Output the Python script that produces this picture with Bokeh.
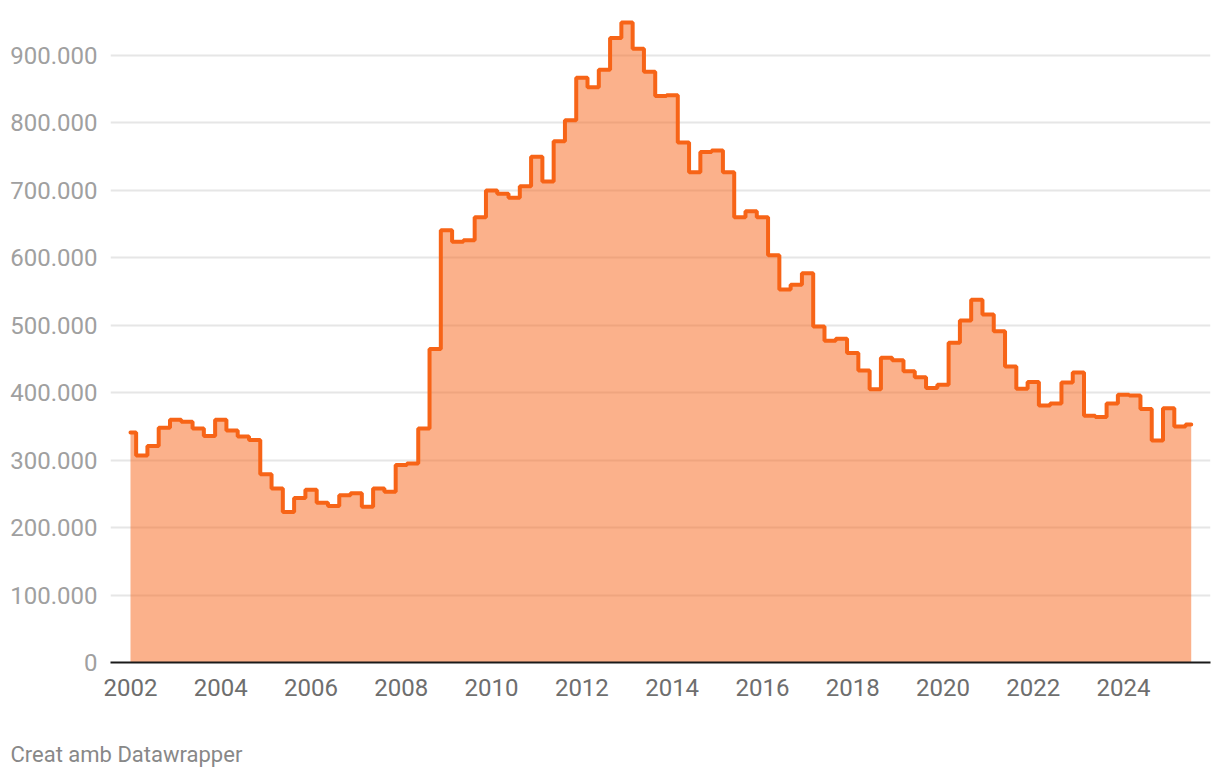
from bokeh.plotting import figure
from bokeh.models import FixedTicker, Range1d, Title
from bokeh.embed import file_html
from bokeh.resources import INLINE
import numpy as np

# Quarterly series, 2002 Q1 .. 2025 Q3 (values in thousands)
start_year = 2002
values_k = [341, 307, 321, 348, 360, 357, 347, 336, 360, 344, 335, 330,
            279, 258, 223, 244, 256, 237, 232, 248, 251, 231, 258, 253,
            293, 295, 347, 465, 641, 624, 626, 660, 700, 695, 689, 706,
            750, 713, 773, 804, 867, 853, 879, 926, 949, 910, 876, 840,
            841, 771, 727, 757, 759, 727, 660, 669, 660, 604, 553, 560,
            577, 498, 477, 480, 459, 433, 405, 452, 448, 432, 423, 407,
            412, 474, 507, 538, 516, 491, 439, 406, 416, 381, 384, 415,
            430, 366, 364, 384, 397, 396, 376, 329, 377, 350, 353]
x_ticks = [2002, 2004, 2006, 2008, 2010, 2012, 2014, 2016, 2018, 2020, 2022, 2024]
y_ticks = [0, 100000, 200000, 300000, 400000, 500000, 600000, 700000, 800000, 900000]
y_tick_labels = ["0", "100.000", "200.000", "300.000", "400.000", "500.000",
                 "600.000", "700.000", "800.000", "900.000"]
footer = "Creat amb Datawrapper"

xs = start_year + 0.25 * np.arange(len(values_k))
ys = np.array(values_k) * 1000.0

LINE = "#f76417"
FONT = "Roboto"

p = figure(width=1212, height=778, output_backend="svg", toolbar_location=None,
           x_range=Range1d(2001.557, 2025.927), y_range=Range1d(0, 959300),
           min_border_left=110, min_border_right=2, min_border_top=15,
           min_border_bottom=116)
p.outline_line_color = None
p.background_fill_color = "white"
p.border_fill_color = "white"

p.xgrid.visible = False
p.ygrid.grid_line_color = "#e6e6e6"
p.ygrid.grid_line_width = 2
p.ygrid.ticker = FixedTicker(ticks=y_ticks)

p.varea_step(x=xs, y1=0, y2=ys, step_mode="center", fill_color=LINE, fill_alpha=0.5)
p.step(xs, ys, mode="center", line_color=LINE, line_width=4, line_cap="round")

# x axis
xa = p.xaxis[0]
xa.ticker = FixedTicker(ticks=x_ticks)
xa.axis_line_color = "#1a1a1a"
xa.axis_line_width = 2
xa.major_tick_line_color = None
xa.minor_tick_line_color = None
xa.major_tick_out = 0
xa.major_tick_in = 0
xa.major_label_standoff = 16
xa.major_label_text_font = FONT
xa.major_label_text_font_size = "24px"
xa.major_label_text_color = "#6e6e6e"

# y axis
ya = p.yaxis[0]
ya.ticker = FixedTicker(ticks=y_ticks)
ya.major_label_overrides = {t: l for t, l in zip(y_ticks, y_tick_labels)}
ya.axis_line_color = None
ya.major_tick_line_color = None
ya.minor_tick_line_color = None
ya.major_tick_out = 0
ya.major_tick_in = 0
ya.major_label_standoff = 13
ya.major_label_text_font = FONT
ya.major_label_text_font_size = "24px"
ya.major_label_text_color = "#a0a0a0"

# spacer between the axis and the footer
p.add_layout(Title(text=" ", standoff=37, text_font_size="1px"), "below")
# footer
p.add_layout(Title(text=footer, align="left", offset=-100, standoff=2,
                   text_font=FONT, text_font_size="22px", text_font_style="normal",
                   text_color="#888888"), "below")

open("out.html", "w").write(file_html(p, INLINE))
